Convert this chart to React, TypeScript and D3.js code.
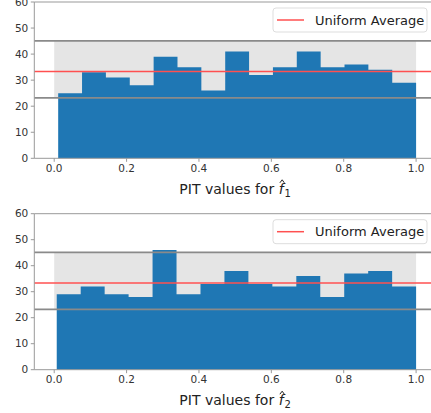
import React, { useLayoutEffect, useRef, useState } from "react";
import * as d3 from "d3";

const counts1 = [25, 33, 31, 28, 39, 35, 26, 41, 32, 35, 41, 35, 36, 34, 29];
const counts2 = [29, 32, 29, 28, 46, 29, 33, 38, 33, 32, 36, 28, 37, 38, 32];
const binStart1 = 0.011;
const binStart2 = 0.007;
const binEnd = 1.0;
const bandLow = 23.2;
const bandHigh = 45.1;
const uniformAvg = 500 / 15;
const xTicks = [0, 0.2, 0.4, 0.6, 0.8, 1.0];
const yTicks = [0, 10, 20, 30, 40, 50, 60];
const labelSubs = ["1", "2"];

const W = 431;
const H = 413;
const FONT = "DejaVu Sans, sans-serif";

function Panel({ counts, start, top, bottom, sub }: { counts: number[]; start: number; top: number; bottom: number; sub: string }) {
  const left = 34.3;
  const right = 436;
  const x = d3.scaleLinear().domain([-0.055, 1.055]).range([left, right]);
  const y = d3.scaleLinear().domain([0, 60]).range([bottom, top]);
  const w = (binEnd - start) / counts.length;
  const bins = counts.map((c, i) => ({ x0: start + i * w, x1: start + (i + 1) * w, c }));
  const area = d3
    .area<{ x: number; c: number }>()
    .x((d) => x(d.x))
    .y0(y(0))
    .y1((d) => y(d.c))
    .curve(d3.curveStepAfter);
  const pts = bins.map((b) => ({ x: b.x0, c: b.c }));
  pts.push({ x: binEnd, c: counts[counts.length - 1] });

  const fRef = useRef<SVGTSpanElement>(null);
  const [hat, setHat] = useState<{ x: number; y: number; w: number } | null>(null);
  useLayoutEffect(() => {
    const el = fRef.current as any;
    if (el && el.getExtentOfChar) {
      const r = el.getExtentOfChar(0);
      setHat({ x: r.x, y: r.y, w: r.width });
    }
  }, []);

  return (
    <g>
      <rect x={x(0)} y={y(bandHigh)} width={x(1) - x(0)} height={y(bandLow) - y(bandHigh)} fill="#e5e5e5" />
      <path d={area(pts) || ""} fill="#1f77b4" />
      <line x1={left} x2={right} y1={y(bandHigh)} y2={y(bandHigh)} stroke="#8a8a8a" strokeWidth={1.8} />
      <line x1={left} x2={right} y1={y(bandLow)} y2={y(bandLow)} stroke="#8a8a8a" strokeWidth={1.8} />
      <line x1={left} x2={right} y1={y(uniformAvg)} y2={y(uniformAvg)} stroke="#ff5050" strokeWidth={1.5} />
      <line x1={left} x2={left} y1={top} y2={bottom} stroke="#999" strokeWidth={1} />
      <line x1={left} x2={right} y1={bottom} y2={bottom} stroke="#999" strokeWidth={1} />
      <line x1={left} x2={right} y1={top} y2={top} stroke="#999" strokeWidth={1} />
      {yTicks.map((t) => (
        <g key={"y" + t}>
          <line x1={left - 3.5} x2={left} y1={y(t)} y2={y(t)} stroke="#999" />
          <text x={left - 6} y={y(t)} dy="0.36em" textAnchor="end" fontSize={10.5} fill="#333" fontFamily={FONT}>
            {t}
          </text>
        </g>
      ))}
      {xTicks.map((t) => (
        <g key={"x" + t}>
          <line x1={x(t)} x2={x(t)} y1={bottom} y2={bottom + 3.5} stroke="#999" />
          <text x={x(t)} y={bottom + 13.5} textAnchor="middle" fontSize={10.5} fill="#333" fontFamily={FONT}>
            {t.toFixed(1)}
          </text>
        </g>
      ))}
      <text x={(left + right) / 2} y={bottom + 35.3} textAnchor="middle" fontSize={14} fill="#222" fontFamily={FONT}>
        PIT values for{" "}
        <tspan ref={fRef} fontStyle="italic">
          f
        </tspan>
        <tspan fontSize={10} dx={1} dy={3}>
          {sub}
        </tspan>
      </text>
      {hat && (
        <path
          d={`M${hat.x + hat.w * 0.25},${hat.y + 2.2} L${hat.x + hat.w * 0.72},${hat.y - 0.8} L${hat.x + hat.w * 1.15},${hat.y + 2.2}`}
          fill="none"
          stroke="#222"
          strokeWidth={1}
        />
      )}
      <rect x={273} y={top + 6} width={154} height={24} rx={3} fill="white" fillOpacity={0.85} stroke="#ddd" />
      <line x1={277} x2={304} y1={top + 18} y2={top + 18} stroke="#ff5050" strokeWidth={1.5} />
      <text x={315} y={top + 18} dy="0.35em" fontSize={13} fill="#222" fontFamily={FONT}>
        Uniform Average
      </text>
    </g>
  );
}

export default function App() {
  return (
    <svg width={W} height={H} style={{ position: "absolute", left: 0, top: 0, background: "white" }}>
      <Panel counts={counts1} start={binStart1} top={2} bottom={158.3} sub={labelSubs[0]} />
      <Panel counts={counts2} start={binStart2} top={213.7} bottom={369.7} sub={labelSubs[1]} />
    </svg>
  );
}
